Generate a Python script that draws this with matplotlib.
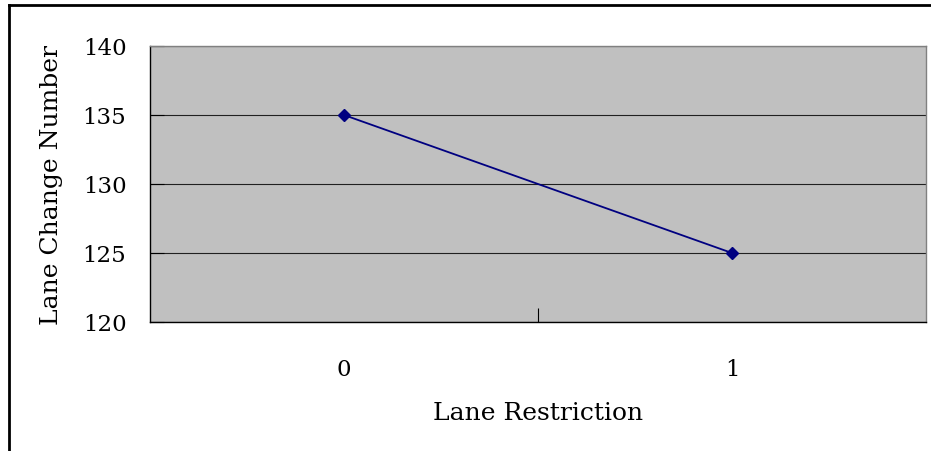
import matplotlib
matplotlib.use('Agg')
import matplotlib.pyplot as plt
from matplotlib.lines import Line2D

# Data
categories = ['0', '1']
lane_changes = [135, 125]
y_ticks = [120, 125, 130, 135, 140]

plt.rcParams['font.family'] = ['DejaVu Serif']

fig = plt.figure(figsize=(9.31, 4.52), dpi=100)
ax = fig.add_axes([150 / 931, 129 / 452, 776 / 931, 276 / 452])
ax.set_facecolor('#C0C0C0')

x = list(range(len(categories)))
ax.plot(x, lane_changes, color='#000080', linewidth=1.3,
        marker='D', markersize=6, markerfacecolor='#000080',
        markeredgecolor='#000080', zorder=3)

ax.set_xlim(-0.5, len(categories) - 0.5)
ax.set_ylim(120, 140)
ax.set_yticks(y_ticks)
ax.set_yticklabels([str(v) for v in y_ticks])
ax.yaxis.grid(True, color='#202020', linewidth=0.8)
ax.set_axisbelow(True)

# tick between categories, labels at category centres
ax.set_xticks([i + 0.5 for i in x[:-1]])
ax.set_xticklabels([])
ax.set_xticks(x, minor=True)
ax.set_xticklabels(categories, minor=True)
ax.tick_params(axis='x', which='major', direction='in', length=10, width=0.8)
ax.tick_params(axis='x', which='minor', length=0, pad=26, labelsize=16.5)
ax.tick_params(axis='y', direction='in', length=10, width=0.8, pad=17, labelsize=16.5)

for side in ['left', 'bottom']:
    ax.spines[side].set_color('#000000')
    ax.spines[side].set_linewidth(1.0)
for side in ['top', 'right']:
    ax.spines[side].set_color('#808080')
    ax.spines[side].set_linewidth(1.0)

ax.set_xlabel('Lane Restriction', fontsize=18, labelpad=15)
ax.set_ylabel('Lane Change Number', fontsize=18, labelpad=14)

# chart area border (only left/top visible in the original crop)
fig.add_artist(Line2D([9 / 931, 9 / 931], [0, 1 - 6 / 452], transform=fig.transFigure,
                      color='black', linewidth=2))
fig.add_artist(Line2D([9 / 931, 1], [1 - 6 / 452, 1 - 6 / 452], transform=fig.transFigure,
                      color='black', linewidth=2))

fig.savefig('out.png', dpi=100)
